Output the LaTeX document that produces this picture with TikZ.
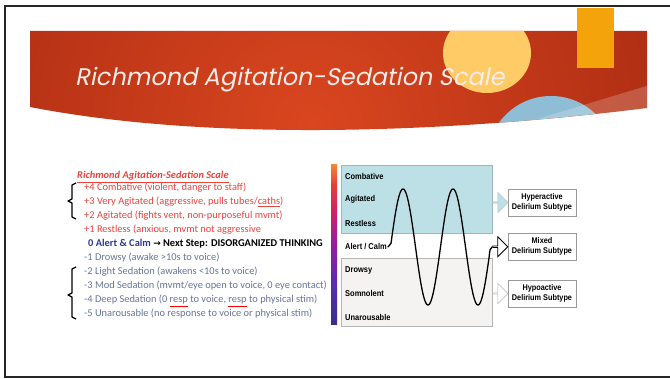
\documentclass[tikz,border=0pt]{standalone}
\usepackage{fontspec}
\setmainfont{Carlito}
\newfontfamily\titlefont[FakeSlant=0.2]{Poppins}
\newfontfamily\narrowfont[FakeStretch=0.88]{Liberation Sans}
\newfontfamily\symfont{DejaVu Sans}
\usetikzlibrary{shapes.arrows}

\definecolor{bannerlight}{HTML}{D9461F}
\definecolor{bannerdark}{HTML}{861608}
\definecolor{sunyellow}{HTML}{FECB67}
\definecolor{skyblue}{HTML}{8FBDD5}
\definecolor{orangebar}{HTML}{F4A30A}
\definecolor{titlewhite}{HTML}{F6ECE8}
\definecolor{scalered}{HTML}{E8443A}
\definecolor{slate}{HTML}{66759A}
\definecolor{calmblue}{HTML}{2B3990}
\definecolor{hyperfill}{HTML}{BCE0E6}
\definecolor{hyperedge}{HTML}{9DB8BC}
\definecolor{hypofill}{HTML}{F5F3F1}
\definecolor{hypoedge}{HTML}{B5B5B5}
\definecolor{boxedge}{HTML}{9A9A9A}

% vertical colour bar, bottom colour first; the path is fitted to 25bp..75bp
\pgfdeclareverticalshading{ragbar}{100bp}{%
  rgb(0bp)=(0.22,0.18,0.55);
  rgb(25bp)=(0.22,0.18,0.55);
  rgb(37bp)=(0.34,0.18,0.68);
  rgb(50bp)=(0.58,0.12,0.62);
  rgb(61bp)=(0.82,0.13,0.40);
  rgb(69bp)=(0.90,0.25,0.22);
  rgb(75bp)=(0.96,0.52,0.22);
  rgb(100bp)=(0.96,0.52,0.22)}

\begin{document}
\begin{tikzpicture}[x=1pt,y=-1pt,
  scaleline/.style={anchor=base west,inner sep=0pt,font=\fontsize{10.4}{12}\selectfont},
  zonelabel/.style={anchor=west,inner sep=0pt,font=\narrowfont\bfseries\fontsize{8.5}{10}\selectfont},
  subbox/.style={draw=boxedge,fill=white,line width=0.6pt,minimum width=68pt,minimum height=27pt,
    inner sep=1pt,align=center,font=\narrowfont\bfseries\fontsize{8.3}{9.5}\selectfont},
  blockarrow/.style={single arrow,minimum height=15pt,minimum width=20pt,
    single arrow head extend=5pt,inner sep=0pt,line width=0.6pt}]
\useasboundingbox (0,0) rectangle (670,379);
\fill[white] (0,0) rectangle (670,379);

% title banner
\begin{scope}
  \clip (30,31) -- (647,31) -- (647,108) .. controls (430,135) and (200,140) .. (30,107) -- cycle;
  \shade[inner color=bannerlight,outer color=bannerdark] (310,125) circle (720);
  \fill[sunyellow] (487,53) ellipse (44 and 40);
  \fill[skyblue] (551,160) circle (64);
  \fill[white,opacity=0.2] (470,140) .. controls (540,118) and (600,100) .. (660,82) -- (660,140) -- cycle;
\end{scope}
\node[anchor=base west,inner sep=0pt,text=titlewhite,font=\titlefont\fontsize{24}{28}\selectfont]
  (title) at (75,86) {Richmond Agitation-Sedation Scale};
\fill[orangebar] (577,8) rectangle (614,68);

% slide frame
\draw[line width=2pt,black!85] (670,6) -- (5,6) -- (5,377) -- (670,377);

% RASS list
\node[scaleline,text=scalered,font=\bfseries\itshape\fontsize{10.4}{12}\selectfont] (head) at (77,179)
  {\underline{Richmond Agitation-Sedation Scale}};
\node[scaleline,text=scalered] (p4) at (84,191) {+4 Combative (violent, danger to staff)};
\node[scaleline,text=scalered] (p3) at (84,205) {+3 Very Agitated (aggressive, pulls tubes/\underline{caths})};
\node[scaleline,text=scalered] (p2) at (84,219) {+2 Agitated (fights vent, non-purposeful mvmt)};
\node[scaleline,text=scalered] (p1) at (84,233) {+1 Restless (anxious, mvmt not aggressive};
\node[scaleline,font=\bfseries\fontsize{10.4}{12}\selectfont] (z0) at (88,247)
  {\textcolor{calmblue}{0 Alert \& Calm} {\symfont\bfseries\fontsize{9}{12}\selectfont →} Next Step: DISORGANIZED THINKING};
\node[scaleline,text=slate] (m1) at (84,261) {-1 Drowsy (awake >10s to voice)};
\node[scaleline,text=slate] (m2) at (84,275) {-2 Light Sedation (awakens <10s to voice)};
\node[scaleline,text=slate] (m3) at (84,289) {-3 Mod Sedation (mvmt/eye open to voice, 0 eye contact)};
\node[scaleline,text=slate] (m4) at (84,303)
  {-4 Deep Sedation (0 {\color{red}\underline{\color{slate}resp}} to voice, {\color{red}\underline{\color{slate}resp}} to physical stim)};
\node[scaleline,text=slate] (m5) at (84,317) {-5 Unarousable (no response to voice or physical stim)};

% braces grouping the agitated and sedated levels
\draw[line width=1.3pt,line join=round] (76,183) -- (72,185) -- (72,199) -- (68,201) -- (72,203) -- (72,217) -- (76,219);
\draw[line width=1.3pt,line join=round] (76,267) -- (72,269) -- (72,293) -- (68,295) -- (72,297) -- (72,317) -- (76,319);

% colour bar
\shade[shading=ragbar] (331,165) rectangle (337,325);

% arousal zones
\node[draw=hyperedge,fill=hyperfill,line width=0.6pt,minimum width=151pt,minimum height=68pt,anchor=north west,inner sep=0pt]
  (hyperzone) at (341,165) {};
\node[draw=hypoedge,fill=hypofill,line width=0.6pt,minimum width=151pt,minimum height=68pt,anchor=north west,inner sep=0pt]
  (hypozone) at (341,258) {};
\node[zonelabel] (combative) at (345,176) {Combative};
\node[zonelabel] (agitated) at (345,199) {Agitated};
\node[zonelabel] (restless) at (345,223) {Restless};
\node[zonelabel] (calm) at (345,247) {Alert / Calm};
\node[zonelabel] (drowsy) at (345,270) {Drowsy};
\node[zonelabel] (somnolent) at (345,293) {Somnolent};
\node[zonelabel] (unarousable) at (345,317) {Unarousable};

% delirium subtypes
\node[subbox] (hyper) at (542,202.5) {Hyperactive\\Delirium Subtype};
\node[subbox] (mixed) at (542,246.5) {Mixed\\Delirium Subtype};
\node[subbox] (hypo) at (542,293.5) {Hypoactive\\Delirium Subtype};

% fluctuating arousal curve
\coordinate (wavestart) at ([xshift=1pt]calm.east);
\coordinate (waveend) at (492,247);
\draw[line width=1.3pt,line cap=round] (wavestart)
  -- plot[domain=391:489,samples=140,smooth] (\x,{247-58*sin(7.2*(\x-390.5))})
  .. controls (490,249) .. (waveend);

% block arrows into the subtype boxes
\path (hyper.west -| hyperzone.east) -- (hyper.west)
  node[midway,blockarrow,draw=hyperedge!80,fill=hyperfill] (toHyper) {};
\path (waveend) -- (mixed.west)
  node[midway,blockarrow,draw=black,fill=white,line width=0.8pt] (toMixed) {};
\path (hypo.west -| hypozone.east) -- (hypo.west)
  node[midway,blockarrow,draw=hypoedge,fill=white] (toHypo) {};
\end{tikzpicture}
\end{document}
